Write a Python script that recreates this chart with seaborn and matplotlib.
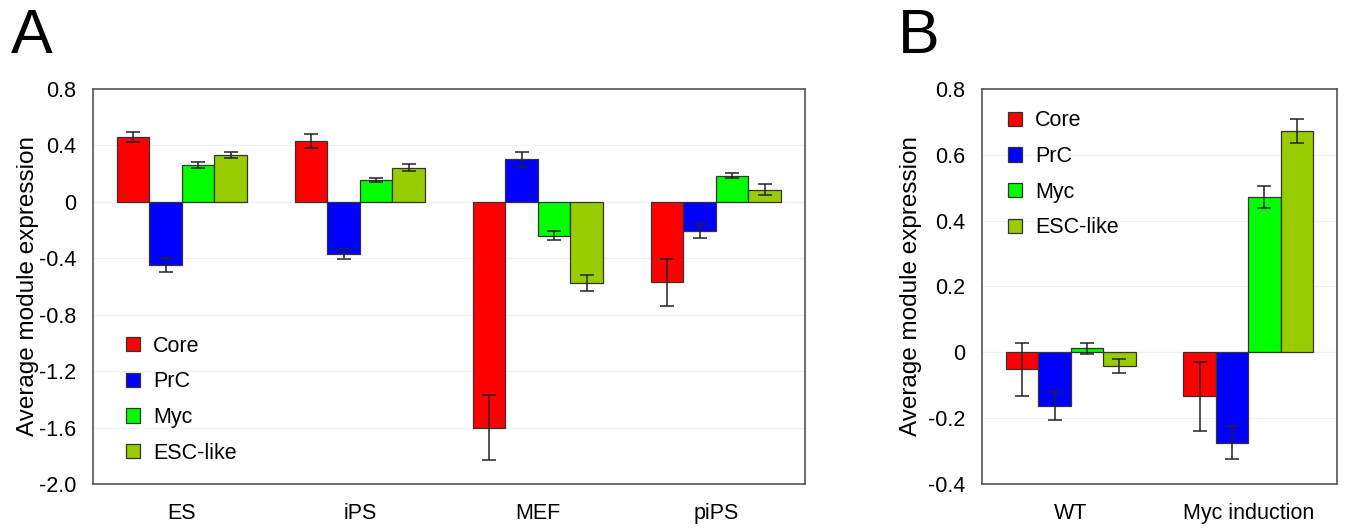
import matplotlib
matplotlib.use("Agg")
import matplotlib.pyplot as plt
import numpy as np
import pandas as pd
import seaborn as sns

MODULES = ["Core", "PrC", "Myc", "ESC-like"]
COLORS = ["#FF0000", "#0000FF", "#00FF00", "#99CC00"]

# Panel A
CELLS_A = ["ES", "iPS", "MEF", "piPS"]
MEAN_A = {
    "Core": [0.46, 0.43, -1.60, -0.57],
    "PrC": [-0.45, -0.37, 0.30, -0.21],
    "Myc": [0.26, 0.155, -0.24, 0.185],
    "ESC-like": [0.33, 0.24, -0.575, 0.085],
}
ERR_A = {
    "Core": [0.035, 0.05, 0.23, 0.165],
    "PrC": [0.05, 0.035, 0.055, 0.05],
    "Myc": [0.02, 0.012, 0.03, 0.02],
    "ESC-like": [0.02, 0.025, 0.055, 0.04],
}
YTICKS_A = [0.8, 0.4, 0, -0.4, -0.8, -1.2, -1.6, -2.0]
YLABELS_A = ["0.8", "0.4", "0", "-0.4", "-0.8", "-1.2", "-1.6", "-2.0"]

# Panel B
CELLS_B = ["WT", "Myc induction"]
MEAN_B = {
    "Core": [-0.052, -0.133],
    "PrC": [-0.164, -0.274],
    "Myc": [0.012, 0.472],
    "ESC-like": [-0.042, 0.672],
}
ERR_B = {
    "Core": [0.08, 0.105],
    "PrC": [0.042, 0.05],
    "Myc": [0.016, 0.033],
    "ESC-like": [0.022, 0.037],
}
YTICKS_B = [0.8, 0.6, 0.4, 0.2, 0, -0.2, -0.4]
YLABELS_B = ["0.8", "0.6", "0.4", "0.2", "0", "-0.2", "-0.4"]


def to_long(cells, means, errs):
    rows = []
    for m in MODULES:
        for c, v, e in zip(cells, means[m], errs[m]):
            rows.append({"cell": c, "module": m, "value": v, "err": e})
    return pd.DataFrame(rows)


def draw_panel(ax, df, cells, yticks, ylabels, ylim, legend_loc, labelpad):
    sns.barplot(
        data=df, x="cell", y="value", hue="module",
        order=cells, hue_order=MODULES, palette=COLORS,
        errorbar=None, width=0.73, edgecolor="#333333", linewidth=0.9,
        saturation=1, ax=ax,
    )
    for container, m in zip(ax.containers, MODULES):
        sub = df[df["module"] == m].set_index("cell").loc[cells]
        xs = [p.get_x() + p.get_width() / 2 for p in container.patches]
        ax.errorbar(xs, sub["value"], yerr=sub["err"], fmt="none",
                    ecolor="#222222", elinewidth=1.1, capsize=5, capthick=1.1)
    ax.axhline(0, color="#dddddd", lw=0.8, zorder=0)
    ax.set_xlim(-0.5, len(cells) - 0.5)
    ax.set_ylim(*ylim)
    ax.set_yticks(yticks)
    ax.set_yticklabels(ylabels)
    ax.yaxis.grid(True, color="#f0f0f0", lw=0.8)
    ax.set_axisbelow(True)
    ax.set_xlabel("")
    ax.set_ylabel("Average module expression", fontsize=17.5, labelpad=labelpad)
    ax.tick_params(axis="both", length=0, labelsize=15.5)
    ax.tick_params(axis="y", pad=12)
    ax.tick_params(axis="x", pad=14)
    for s in ax.spines.values():
        s.set_color("#555555")
        s.set_linewidth(1.2)
    ax.legend(loc=legend_loc, frameon=False, fontsize=15.5,
              handlelength=0.65, handleheight=0.65, labelspacing=0.68,
              handletextpad=0.6, borderaxespad=1.0)


plt.rcParams["font.family"] = ["Liberation Sans", "DejaVu Sans"]
fig = plt.figure(figsize=(13.46, 5.29), dpi=100)
ax_a = fig.add_axes([0.069, 0.085, 0.529, 0.747])
ax_b = fig.add_axes([0.7296, 0.085, 0.2637, 0.747])

draw_panel(ax_a, to_long(CELLS_A, MEAN_A, ERR_A), CELLS_A,
           YTICKS_A, YLABELS_A, (-2.0, 0.8), (0.035, 0.03), 0)
draw_panel(ax_b, to_long(CELLS_B, MEAN_B, ERR_B), CELLS_B,
           YTICKS_B, YLABELS_B, (-0.4, 0.8), (0.05, 0.6), 4)

fig.text(0.008, 0.9, "A", fontsize=45)
fig.text(0.667, 0.9, "B", fontsize=45)

fig.savefig("out.png", dpi=100)
